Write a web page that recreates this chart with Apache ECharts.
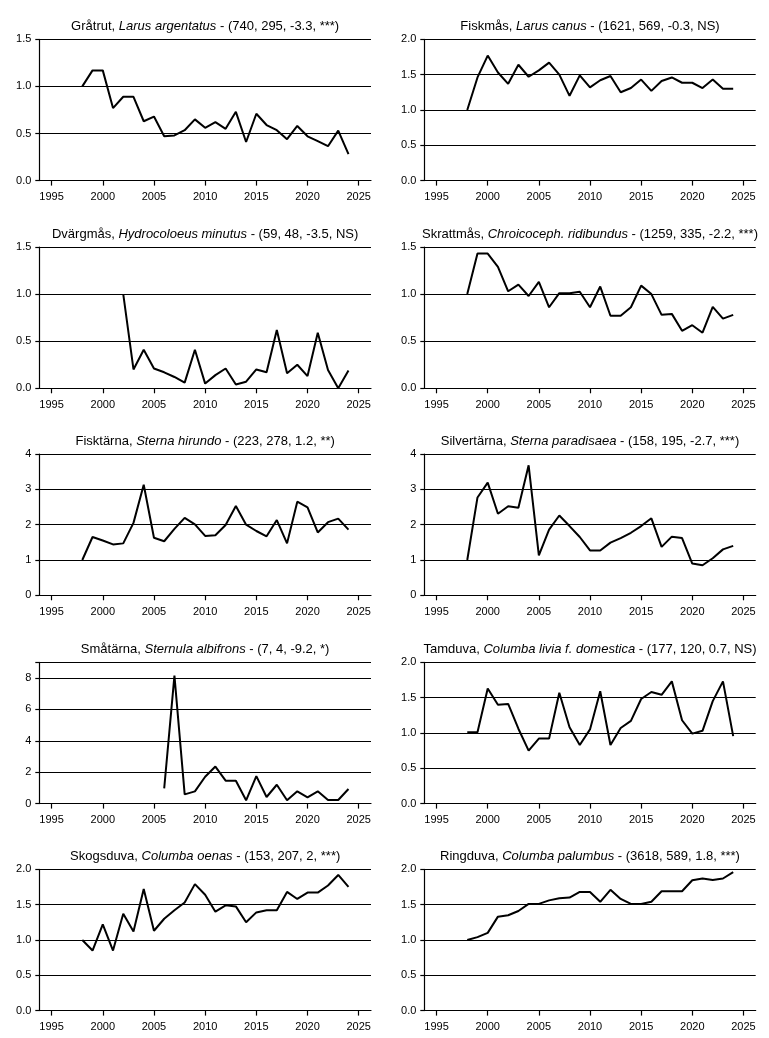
<!DOCTYPE html>
<html>
<head>
<meta charset="utf-8">
<script src="https://cdn.jsdelivr.net/npm/echarts@6/dist/echarts.min.js"></script>
<style>
html,body{margin:0;padding:0;background:#fff;}
#c{width:769px;height:1038px;}
</style>
</head>
<body>
<div id="c"></div>
<script>
const years = [1998,1999,2000,2001,2002,2003,2004,2005,2006,2007,2008,2009,2010,2011,2012,2013,2014,2015,2016,2017,2018,2019,2020,2021,2022,2023,2024];
const xTicks = [1995, 2000, 2005, 2010, 2015, 2020, 2025];

const swedishNames = ['Gråtrut','Fiskmås','Dvärgmås','Skrattmås','Fisktärna','Silvertärna','Småtärna','Tamduva','Skogsduva','Ringduva'];
const latinNames = ['Larus argentatus','Larus canus','Hydrocoloeus minutus','Chroicoceph. ridibundus','Sterna hirundo','Sterna paradisaea','Sternula albifrons','Columba livia f. domestica','Columba oenas','Columba palumbus'];
const statsText = ['(740, 295, -3.3, ***)','(1621, 569, -0.3, NS)','(59, 48, -3.5, NS)','(1259, 335, -2.2, ***)','(223, 278, 1.2, **)','(158, 195, -2.7, ***)','(7, 4, -9.2, *)','(177, 120, 0.7, NS)','(153, 207, 2, ***)','(3618, 589, 1.8, ***)'];

const gratrut = [1.0,1.17,1.17,0.77,0.89,0.89,0.63,0.68,0.47,0.48,0.535,0.65,0.56,0.62,0.55,0.73,0.41,0.71,0.59,0.535,0.44,0.58,0.47,0.42,0.365,0.53,0.28];
const fiskmas = [1.0,1.46,1.77,1.53,1.37,1.64,1.47,1.56,1.67,1.50,1.20,1.49,1.32,1.42,1.48,1.25,1.31,1.43,1.27,1.41,1.46,1.385,1.385,1.31,1.43,1.30,1.30];
const dvargmas = [null,null,null,null,1.0,0.20,0.41,0.21,0.17,0.12,0.06,0.41,0.05,0.14,0.21,0.04,0.07,0.20,0.17,0.62,0.16,0.25,0.13,0.59,0.195,0.0,0.19];
const skrattmas = [1.0,1.43,1.43,1.29,1.03,1.10,0.98,1.13,0.86,1.01,1.01,1.025,0.86,1.08,0.77,0.77,0.86,1.09,1.0,0.78,0.79,0.61,0.67,0.59,0.865,0.74,0.78];
const fisktarna = [1.0,1.65,1.55,1.44,1.47,2.05,3.13,1.63,1.53,1.88,2.19,2.01,1.68,1.70,1.99,2.53,2.0,1.82,1.67,2.13,1.47,2.65,2.49,1.78,2.07,2.17,1.86];
const silvertarna = [1.0,2.77,3.19,2.31,2.52,2.48,3.68,1.13,1.86,2.26,1.96,1.65,1.27,1.27,1.49,1.62,1.77,1.96,2.18,1.37,1.66,1.62,0.90,0.85,1.05,1.30,1.40];
const smatarna = [null,null,null,null,null,null,null,null,0.97,8.15,0.59,0.78,1.71,2.36,1.46,1.46,0.21,1.75,0.42,1.20,0.21,0.78,0.40,0.78,0.23,0.23,0.93];
const tamduva = [1.01,1.01,1.63,1.40,1.41,1.06,0.75,0.92,0.92,1.57,1.08,0.83,1.05,1.59,0.83,1.07,1.17,1.48,1.58,1.54,1.73,1.18,0.99,1.03,1.45,1.73,0.955];
const skogsduva = [1.0,0.85,1.22,0.85,1.37,1.12,1.72,1.13,1.30,1.42,1.53,1.79,1.64,1.40,1.49,1.475,1.25,1.39,1.42,1.42,1.68,1.58,1.67,1.67,1.77,1.92,1.75];
const ringduva = [1.0,1.04,1.10,1.33,1.35,1.41,1.51,1.51,1.56,1.59,1.60,1.68,1.68,1.54,1.71,1.58,1.51,1.51,1.54,1.69,1.69,1.69,1.845,1.87,1.85,1.87,1.96];

const seriesValues = [gratrut,fiskmas,dvargmas,skrattmas,fisktarna,silvertarna,smatarna,tamduva,skogsduva,ringduva];

const yTicks15 = [0, 0.5, 1.0, 1.5];
const yTicks20 = [0, 0.5, 1.0, 1.5, 2.0];
const yTicks4 = [0, 1, 2, 3, 4];
const yTicks8 = [0, 2, 4, 6, 8];
const yMaxes = [1.5, 2.0, 1.5, 1.5, 4, 4, 9, 2.0, 2.0, 2.0];
const yLabelTicks = [yTicks15, yTicks20, yTicks15, yTicks15, yTicks4, yTicks4, yTicks8, yTicks20, yTicks20, yTicks20];
const yDecimals = [1,1,1,1,0,0,0,1,1,1];

const FONT = 'Liberation Sans, Arial, sans-serif';
const colLeft = [39.3, 424.3];
const colRight = [371, 755.7];
const rowTop = [39.3, 247, 454, 662.3, 869.3];
const plotH = 141.3;

const grids = [], xAxes = [], yAxes = [], series = [], titles = [];
for (let i = 0; i < 10; i++) {
  const col = i % 2, row = Math.floor(i / 2);
  const L = colLeft[col], R = colRight[col], T = rowTop[row];
  grids.push({left: L, top: T, width: R - L, height: plotH, containLabel: false});
  xAxes.push({
    gridIndex: i, type: 'value', min: 1993.8, max: 2026.2,
    axisLine: {show: true, onZero: false, lineStyle: {color: '#000', width: 1.2}},
    axisTick: {show: true, length: 5, lineStyle: {color: '#000', width: 1.2}, customValues: xTicks},
    axisLabel: {show: true, customValues: xTicks, margin: 11, color: '#000', fontSize: 11, fontFamily: FONT,
      formatter: v => String(Math.round(v))},
    splitLine: {show: false}
  });
  const labVals = yLabelTicks[i].slice();
  const tickVals = labVals.slice();
  if (tickVals[tickVals.length - 1] < yMaxes[i]) tickVals.push(yMaxes[i]);
  const dec = yDecimals[i];
  yAxes.push({
    gridIndex: i, type: 'value', min: 0, max: yMaxes[i],
    axisLine: {show: true, onZero: false, lineStyle: {color: '#000', width: 1.2}},
    axisTick: {show: true, length: 4, inside: false, lineStyle: {color: '#000', width: 1.2}, customValues: tickVals},
    axisLabel: {show: true, customValues: labVals, margin: 8, color: '#000', fontSize: 11, fontFamily: FONT,
      formatter: v => Number(v).toFixed(dec)},
    splitLine: {show: true, lineStyle: {color: '#000', width: 1.2}}
  });
  const vals = seriesValues[i];
  const data = [];
  for (let k = 0; k < years.length; k++) if (vals[k] !== null) data.push([years[k], vals[k]]);
  series.push({
    type: 'line', xAxisIndex: i, yAxisIndex: i, data: data, symbol: 'none',
    lineStyle: {color: '#000', width: 2}, animation: false, z: 5
  });
  titles.push({
    text: '{n|' + swedishNames[i] + ', }{it|' + latinNames[i] + '}{n| - ' + statsText[i] + '}',
    left: (L + R) / 2, top: T - 19.5, textAlign: 'center',
    padding: 0,
    textStyle: {
      fontWeight: 'normal', fontFamily: FONT, fontSize: 13, color: '#000',
      rich: {
        n: {fontFamily: FONT, fontSize: 13, fontWeight: 'normal', color: '#000'},
        it: {fontFamily: FONT, fontSize: 13, fontWeight: 'normal', fontStyle: 'italic', color: '#000'}
      }
    }
  });
}

const chart = echarts.init(document.getElementById('c'), null, {renderer: 'canvas'});
chart.setOption({
  backgroundColor: '#fff',
  animation: false,
  title: titles,
  grid: grids,
  xAxis: xAxes,
  yAxis: yAxes,
  series: series
});
</script>
</body>
</html>
